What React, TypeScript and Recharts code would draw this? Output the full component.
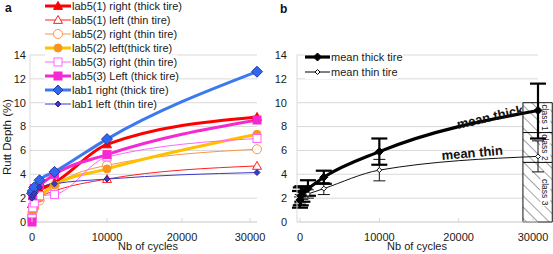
import React from 'react';
import { LineChart, Line, XAxis, YAxis, CartesianGrid, ErrorBar, ReferenceArea, ReferenceDot } from 'recharts';

// ---------- Panel a data ----------
const cyclesA = [0, 100, 300, 1000, 3000, 10000, 30000];
const lab51Right = [1.5, 2.2, 2.5, 2.7, 3.3, 6.5, 8.8];
const lab51Left = [0.8, 1.5, 1.8, 2.1, 2.6, 3.6, 4.7];
const lab52Right = [0.5, 0.9, 1.2, 1.8, 3.0, 4.75, 6.1];
const lab52Left = [0.8, 1.0, 1.2, 2.0, 3.1, 4.45, 7.35];
const lab53Right = [0.3, 1.2, 1.6, 2.2, 2.3, 5.45, 7.0];
const lab53Left = [0, 2.2, 2.8, 3.1, 4.0, 5.65, 8.55];
const lab1Right = [2.4, 2.6, 2.9, 3.5, 4.2, 6.95, 12.6];
const lab1Left = [2.0, 2.2, 2.4, 2.9, 3.2, 3.6, 4.15];

// ---------- Panel b data ----------
const cyclesB = [0, 100, 300, 1000, 3000, 10000, 30000];
const meanThick = [1.85, 2.2, 2.5, 2.8, 3.75, 5.9, 9.35];
const meanThickLow = [1.2, 1.4, 1.7, 2.2, 3.2, 4.8, 7.0];
const meanThickHigh = [2.6, 2.9, 3.0, 3.5, 4.3, 7.0, 11.6];
const meanThin = [1.8, 2.0, 2.2, 2.35, 2.8, 4.35, 5.5];
const meanThinLow = [1.5, 1.7, 1.9, 2.0, 2.3, 3.45, 4.2];
const meanThinHigh = [2.1, 2.3, 2.5, 2.7, 3.3, 5.25, 6.8];

const classBounds = [0, 5, 7.5, 10];
const classNames = ['class 3', 'class 2', 'class 1'];
const classX = [28100, 31800];

const xTicks = [0, 10000, 20000, 30000];
const yTicks = [0, 2, 4, 6, 8, 10, 12, 14];

type Shape = 'triangle' | 'circle' | 'square' | 'diamond';
interface SeriesDef {
  key: string;
  name: string;
  values: number[];
  color: string;
  width: number;
  shape: Shape;
  filled: boolean;
  size: number;
  markerFill?: string;
  markerStroke?: string;
}

const seriesA: SeriesDef[] = [
  { key: 's1', name: 'lab5(1) right (thick tire)', values: lab51Right, color: '#FF0000', width: 3, shape: 'triangle', filled: true, size: 9 },
  { key: 's2', name: 'lab5(1) left (thin tire)', values: lab51Left, color: '#FF2020', width: 1, shape: 'triangle', filled: false, size: 9 },
  { key: 's3', name: 'lab5(2) right (thin tire)', values: lab52Right, color: '#F79646', width: 1, shape: 'circle', filled: false, size: 10 },
  { key: 's4', name: 'lab5(2) left(thick tire)', values: lab52Left, color: '#FFC000', width: 3, shape: 'circle', filled: true, size: 9, markerFill: '#F7961E', markerStroke: '#F7961E' },
  { key: 's5', name: 'lab5(3) right (thin tire)', values: lab53Right, color: '#FF66FF', width: 1, shape: 'square', filled: false, size: 9 },
  { key: 's6', name: 'lab5(3) Left (thick tire)', values: lab53Left, color: '#F528D2', width: 3, shape: 'square', filled: true, size: 9 },
  { key: 's7', name: 'lab1 right (thick tire)', values: lab1Right, color: '#3C78F0', width: 3, shape: 'diamond', filled: true, size: 11, markerFill: '#3366EE', markerStroke: '#1F3FA0' },
  { key: 's8', name: 'lab1 left (thin tire)', values: lab1Left, color: '#3A3AC8', width: 1, shape: 'diamond', filled: true, size: 6, markerFill: '#3A3AC8', markerStroke: '#2A2A90' },
];

const dataA = cyclesA.map((c, i) => {
  const row: Record<string, number> = { cycles: c };
  seriesA.forEach((s) => { row[s.key] = s.values[i]; });
  return row;
});

const dataB = cyclesB.map((c, i) => ({
  cycles: c,
  thick: meanThick[i],
  thickErr: [meanThick[i] - meanThickLow[i], meanThickHigh[i] - meanThick[i]],
  thin: meanThin[i],
  thinErr: [meanThin[i] - meanThinLow[i], meanThinHigh[i] - meanThin[i]],
}));

function Marker(props: { cx?: number; cy?: number; shape: Shape; size: number; fill: string; stroke: string; sw?: number }) {
  const { cx, cy, shape, size, fill, stroke } = props;
  const sw = props.sw ?? 1;
  if (cx == null || cy == null || isNaN(cx) || isNaN(cy)) return null;
  const s = size / 2;
  if (shape === 'triangle') {
    return <polygon points={`${cx},${cy - s} ${cx + s},${cy + s * 0.75} ${cx - s},${cy + s * 0.75}`} fill={fill} stroke={stroke} strokeWidth={sw} />;
  }
  if (shape === 'circle') {
    return <circle cx={cx} cy={cy} r={s - 0.5} fill={fill} stroke={stroke} strokeWidth={sw} />;
  }
  if (shape === 'square') {
    return <rect x={cx - s + 0.5} y={cy - s + 0.5} width={size - 1} height={size - 1} fill={fill} stroke={stroke} strokeWidth={sw} />;
  }
  return <polygon points={`${cx},${cy - s} ${cx + s},${cy} ${cx},${cy + s} ${cx - s},${cy}`} fill={fill} stroke={stroke} strokeWidth={sw} />;
}

function markerColors(s: SeriesDef) {
  const fill = s.filled ? (s.markerFill ?? s.color) : '#FFFFFF';
  const stroke = s.markerStroke ?? s.color;
  return { fill, stroke };
}

const FONT = '"Liberation Sans", Arial, sans-serif';
const GRID = '#D9D9D9';

const XTick = (props: any) => {
  const { x, y, payload } = props;
  return (
    <g>
      <line x1={x} x2={x} y1={y - 11} y2={y - 15} stroke={GRID} />
      <text x={x} y={y} dy="0.71em" textAnchor="middle" fontSize={11} fill="#1a1a1a" fontFamily={FONT}>
        {payload.value}
      </text>
    </g>
  );
};

const ClassLabel = (props: any) => {
  const { viewBox, value } = props;
  if (!viewBox) return null;
  const cx = viewBox.x + viewBox.width - 7;
  const cy = viewBox.y + viewBox.height / 2;
  const w = value.length * 3.7;
  return (
    <g transform={`rotate(90 ${cx} ${cy})`}>
      <rect x={cx - w / 2 - 1} y={cy - 5} width={w + 2} height={10} fill="#FFFFFF" />
      <text x={cx} y={cy} textAnchor="middle" dominantBaseline="central" fontSize={8.5} fill="#222" fontFamily={FONT}>
        {value}
      </text>
    </g>
  );
};

const RotText = (text: string, angle: number) => (p: any) => (
  <text
    x={p.cx}
    y={p.cy}
    textAnchor="middle"
    dominantBaseline="central"
    transform={`rotate(${angle} ${p.cx} ${p.cy})`}
    fontWeight="bold"
    fontSize={13}
    fill="#111"
    fontFamily={FONT}
  >
    {text}
  </text>
);

export default function App() {
  return (
    <div style={{ position: 'absolute', left: 0, top: 0, width: 553, height: 254, background: '#fff', fontFamily: FONT, overflow: 'hidden' }}>
      {/* Panel a */}
      <div style={{ position: 'absolute', left: 0, top: 0 }}>
        <LineChart width={270} height={254} data={dataA} margin={{ top: 55, right: 13, bottom: 0, left: 0 }}>
          <CartesianGrid stroke={GRID} vertical={false} />
          <XAxis
            dataKey="cycles"
            type="number"
            domain={[0, 30000]}
            ticks={xTicks}
            padding={{ left: 2, right: 0 }}
            height={32}
            tickSize={0}
            tickMargin={11}
            tick={XTick}
            axisLine={{ stroke: GRID }}
          />
          <YAxis
            type="number"
            domain={[0, 14]}
            ticks={yTicks}
            width={30}
            tickSize={0}
            tickMargin={4}
            axisLine={{ stroke: GRID }}
            tick={{ fontSize: 11, fill: '#1a1a1a', fontFamily: FONT }}
          />
          {seriesA.map((s) => {
            const mc = markerColors(s);
            return (
              <Line
                key={s.key}
                dataKey={s.key}
                name={s.name}
                type="monotone"
                stroke={s.color}
                strokeWidth={s.width}
                isAnimationActive={false}
                dot={(p: any) => (
                  <Marker key={`${s.key}-${p.index}`} cx={p.cx} cy={p.cy} shape={s.shape} size={s.size} fill={mc.fill} stroke={mc.stroke} />
                )}
                activeDot={false}
              />
            );
          })}
        </LineChart>
      </div>

      {/* Panel b */}
      <div style={{ position: 'absolute', left: 270, top: 0 }}>
        <LineChart width={283} height={254} data={dataB} margin={{ top: 55, right: 15, bottom: 0, left: 0 }}>
          <defs>
            <pattern id="hatch" width={8} height={8} patternUnits="userSpaceOnUse" patternTransform="rotate(-45)">
              <rect width={8} height={8} fill="#FFFFFF" />
              <line x1={0} y1={0} x2={0} y2={8} stroke="#333" strokeWidth={0.9} />
            </pattern>
          </defs>
          <CartesianGrid stroke={GRID} vertical={false} />
          <XAxis
            dataKey="cycles"
            type="number"
            domain={[0, 30000]}
            ticks={xTicks}
            padding={{ left: 3, right: 0 }}
            height={32}
            tickSize={0}
            tickMargin={11}
            tick={XTick}
            axisLine={{ stroke: GRID }}
          />
          <YAxis
            type="number"
            domain={[0, 14]}
            ticks={yTicks}
            width={27}
            tickSize={0}
            tickMargin={10}
            axisLine={{ stroke: GRID }}
            tick={{ fontSize: 11, fill: '#1a1a1a', fontFamily: FONT }}
          />
          {classNames.map((n, i) => (
            <ReferenceArea
              key={n}
              x1={classX[0]}
              x2={classX[1]}
              y1={classBounds[i]}
              y2={classBounds[i + 1]}
              fill="url(#hatch)"
              fillOpacity={1}
              stroke="#111"
              strokeWidth={1}
              ifOverflow="visible"
              label={(p: any) => <ClassLabel viewBox={p.viewBox} value={n} />}
            />
          ))}
          <Line
            dataKey="thin"
            name="mean thin tire"
            type="monotone"
            stroke="#111"
            strokeWidth={1}
            isAnimationActive={false}
            dot={(p: any) => <Marker key={`t-${p.index}`} cx={p.cx} cy={p.cy} shape="diamond" size={5} fill="#FFFFFF" stroke="#111" />}
            activeDot={false}
          >
            <ErrorBar dataKey="thinErr" width={6} strokeWidth={1} stroke="#111" direction="y" />
          </Line>
          <Line
            dataKey="thick"
            name="mean thick tire"
            type="monotone"
            stroke="#000"
            strokeWidth={3.2}
            isAnimationActive={false}
            dot={(p: any) => <Marker key={`k-${p.index}`} cx={p.cx} cy={p.cy} shape="diamond" size={8} fill="#000" stroke="#000" />}
            activeDot={false}
          >
            <ErrorBar dataKey="thickErr" width={8} strokeWidth={2.2} stroke="#000" direction="y" />
          </Line>
          <ReferenceDot x={23960} y={8.8} r={0} shape={RotText('mean thick', -13)} />
          <ReferenceDot x={21700} y={5.8} r={0} shape={RotText('mean thin', -5)} />
        </LineChart>
      </div>

      {/* Legend a */}
      <div style={{ position: 'absolute', left: 45, top: 0 }}>
        {seriesA.map((s, i) => {
          const mc = markerColors(s);
          return (
            <div key={s.key} style={{ position: 'absolute', left: 0, top: 6 + i * 14 - 7, height: 14, display: 'flex', alignItems: 'center', whiteSpace: 'nowrap', background: '#fff' }}>
              <svg width={26} height={14} style={{ display: 'block' }}>
                <line x1={0} x2={26} y1={7} y2={7} stroke={s.color} strokeWidth={s.width} />
                <Marker cx={13} cy={7} shape={s.shape} size={Math.min(s.size, 10)} fill={mc.fill} stroke={mc.stroke} />
              </svg>
              <span style={{ fontSize: 11, color: '#1a1a1a', marginLeft: 1, lineHeight: '14px' }}>{s.name}</span>
            </div>
          );
        })}
      </div>

      {/* Legend b */}
      <div style={{ position: 'absolute', left: 305, top: 0 }}>
        {[
          { name: 'mean thick tire', w: 3.2, size: 8, fill: '#000' },
          { name: 'mean thin tire', w: 1, size: 5, fill: '#fff' },
        ].map((s, i) => (
          <div key={s.name} style={{ position: 'absolute', left: 0, top: 57 + i * 15 - 7, height: 14, display: 'flex', alignItems: 'center', whiteSpace: 'nowrap', background: '#fff' }}>
            <svg width={25} height={14} style={{ display: 'block' }}>
              <line x1={0} x2={25} y1={7} y2={7} stroke="#000" strokeWidth={s.w} />
              <Marker cx={12.5} cy={7} shape="diamond" size={s.size} fill={s.fill} stroke="#000" />
            </svg>
            <span style={{ fontSize: 11, color: '#1a1a1a', marginLeft: 1, lineHeight: '14px' }}>{s.name}</span>
          </div>
        ))}
      </div>

      {/* Titles and axis labels */}
      <svg width={553} height={254} style={{ position: 'absolute', left: 0, top: 0, pointerEvents: 'none' }}>
        <text x={5} y={12} fontSize={12} fontWeight="bold" fill="#111" fontFamily={FONT}>a</text>
        <text x={280} y={13} fontSize={12} fontWeight="bold" fill="#111" fontFamily={FONT}>b</text>
        <text x={11} y={137} fontSize={11.5} fill="#1a1a1a" textAnchor="middle" transform="rotate(-90 11 137)" fontFamily={FONT}>Rutt Depth (%)</text>
        <text x={148} y={250} fontSize={11} fill="#1a1a1a" textAnchor="middle" fontFamily={FONT}>Nb of cycles</text>
        <text x={417} y={250} fontSize={11} fill="#1a1a1a" textAnchor="middle" fontFamily={FONT}>Nb of cycles</text>
      </svg>
    </div>
  );
}
